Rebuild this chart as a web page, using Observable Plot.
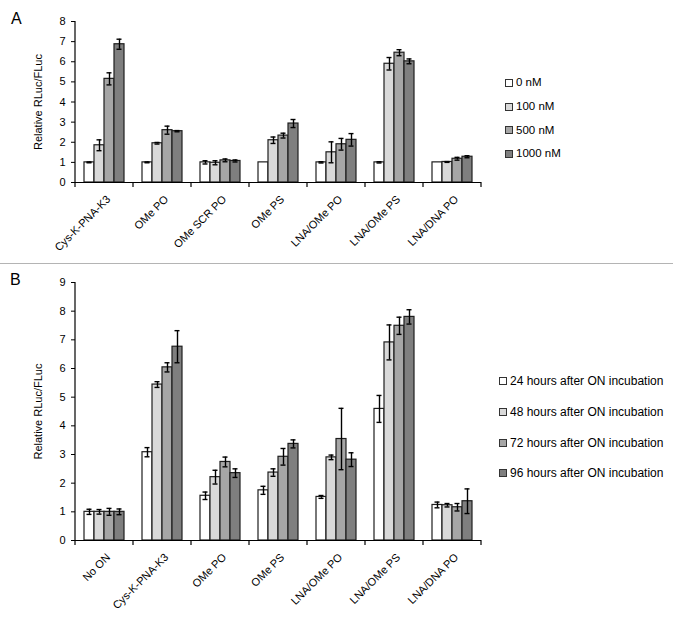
<!DOCTYPE html>
<html>
<head>
<meta charset="utf-8">
<script src="https://cdn.jsdelivr.net/npm/d3@7"></script>
<script src="https://cdn.jsdelivr.net/npm/@observablehq/plot@0.6"></script>
<style>
  html, body { margin: 0; padding: 0; background: #fff; }
  #root { position: relative; width: 673px; height: 621px; overflow: hidden; font-family: "Liberation Sans", Arial, sans-serif; color: #000; }
  #root svg, #root svg text { font-family: "Liberation Sans", Arial, sans-serif !important; }
  .panel { position: absolute; left: 0; }
  .letter { position: absolute; font-size: 16px; line-height: 1; }
  .sep { position: absolute; left: 0; width: 673px; height: 1px; background: #b4b4b4; }
  .legend { position: absolute; }
  .legend .row { position: absolute; left: 0; white-space: nowrap; display: flex; align-items: center; line-height: 1; }
  .legend .sw { width: 6px; height: 6px; border: 1px solid #333; margin-right: 3px; display: inline-block; }
</style>
</head>
<body>
<div id="root"></div>
<script>
// ---------- Data: panel A ----------
const catsA = ["Cys-K-PNA-K3", "OMe PO", "OMe SCR PO", "OMe PS", "LNA/OMe PO", "LNA/OMe PS", "LNA/DNA PO"];
const seriesA = ["0 nM", "100 nM", "500 nM", "1000 nM"];
const valA0 = [1.00, 1.00, 1.00, 1.00, 1.00, 1.00, 1.00];
const valA1 = [1.85, 1.95, 0.98, 2.10, 1.50, 5.90, 1.02];
const valA2 = [5.15, 2.60, 1.10, 2.33, 1.90, 6.45, 1.18];
const valA3 = [6.87, 2.55, 1.07, 2.93, 2.12, 6.02, 1.28];
const errA0 = [0.02, 0.02, 0.08, 0.00, 0.03, 0.03, 0.00];
const errA1 = [0.27, 0.04, 0.10, 0.16, 0.52, 0.31, 0.02];
const errA2 = [0.30, 0.20, 0.07, 0.12, 0.29, 0.15, 0.07];
const errA3 = [0.25, 0.03, 0.05, 0.20, 0.31, 0.12, 0.05];
const yTicksA = [0, 1, 2, 3, 4, 5, 6, 7, 8];

// ---------- Data: panel B ----------
const catsB = ["No ON", "Cys-K-PNA-K3", "OMe PO", "OMe PS", "LNA/OMe PO", "LNA/OMe PS", "LNA/DNA PO"];
const seriesB = ["24 hours after ON incubation", "48 hours after ON incubation", "72 hours after ON incubation", "96 hours after ON incubation"];
const valB0 = [1.00, 3.08, 1.56, 1.75, 1.52, 4.59, 1.24];
const valB1 = [1.00, 5.44, 2.21, 2.37, 2.90, 6.91, 1.23];
const valB2 = [1.00, 6.04, 2.74, 2.92, 3.54, 7.49, 1.16];
const valB3 = [1.00, 6.76, 2.35, 3.37, 2.82, 7.80, 1.37];
const errB0 = [0.09, 0.16, 0.13, 0.14, 0.05, 0.47, 0.10];
const errB1 = [0.08, 0.10, 0.24, 0.13, 0.08, 0.61, 0.06];
const errB2 = [0.12, 0.16, 0.17, 0.29, 1.07, 0.30, 0.13];
const errB3 = [0.10, 0.56, 0.15, 0.14, 0.24, 0.25, 0.43];
const yTicksB = [0, 1, 2, 3, 4, 5, 6, 7, 8, 9];

const fills = ["#ffffff", "#d9d9d9", "#a6a6a6", "#7f7f7f"];
const yLabel = "Relative RLuc/FLuc";
const FONT = "'Liberation Sans', Arial, sans-serif";

function makePanel({cats, series, vals, errs, yTicks, height, marginTop, marginBottom}) {
  const rows = [];
  cats.forEach((c, i) => series.forEach((s, k) => rows.push({cat: c, series: s, value: vals[k][i], err: errs[k][i]})));
  const withErr = rows.filter(d => d.err > 0);
  const ymax = yTicks[yTicks.length - 1];
  const plot = Plot.plot({
    width: 673,
    height,
    marginLeft: 72,
    marginRight: 189,
    marginTop,
    marginBottom,
    style: {fontFamily: FONT, fontSize: "11px", color: "#000", background: "transparent", overflow: "visible"},
    fx: {domain: cats, padding: 0, label: null},
    x: {domain: series, paddingInner: 0, paddingOuter: 0.75, axis: null},
    y: {domain: [0, ymax], label: null},
    color: {domain: series, range: fills},
    marks: [
      Plot.axisY({ticks: yTicks, tickSize: 4, tickPadding: 6, fontSize: 11, label: yLabel, labelAnchor: "center", labelOffset: 41, labelArrow: false}),
      Plot.axisFx({anchor: "bottom", tickSize: 0, tickRotate: -45, tickPadding: 9, dx: 4, dy: 6, fontSize: 11, label: null}),
      Plot.barY(rows, {fx: "cat", x: "series", y: "value", fill: "series", stroke: "#1e1e1e", strokeWidth: 1.2}),
      Plot.ruleX(withErr, {fx: "cat", x: "series", y1: d => d.value - d.err, y2: d => d.value + d.err, stroke: "#000", strokeWidth: 1.4}),
      Plot.tickY(withErr, {fx: "cat", x: "series", y: d => d.value + d.err, stroke: "#000", strokeWidth: 1.4, insetLeft: 2.5, insetRight: 2.5}),
      Plot.tickY(withErr, {fx: "cat", x: "series", y: d => d.value - d.err, stroke: "#000", strokeWidth: 1.4, insetLeft: 2.5, insetRight: 2.5}),
      Plot.ruleY([0], {stroke: "#000", strokeWidth: 1.2})
    ]
  });
  plot.setAttribute("font-family", FONT);
  // category boundary ticks and the y axis line, from the plot's own scales
  const fx = plot.scale("fx"), y = plot.scale("y");
  const bounds = cats.map(c => fx.apply(c));
  bounds.push(bounds[bounds.length - 1] + fx.bandwidth);
  const g = d3.select(plot).append("g").attr("stroke", "#000").attr("stroke-width", 1.2);
  g.selectAll("line.b").data(bounds).join("line")
    .attr("x1", d => d).attr("x2", d => d)
    .attr("y1", y.apply(0)).attr("y2", y.apply(0) + 5);
  g.append("line")
    .attr("x1", bounds[0]).attr("x2", bounds[0])
    .attr("y1", y.apply(0)).attr("y2", y.apply(ymax));
  return plot;
}

const root = document.getElementById("root");

const pA = makePanel({cats: catsA, series: seriesA, vals: [valA0, valA1, valA2, valA3], errs: [errA0, errA1, errA2, errA3], yTicks: yTicksA, height: 263, marginTop: 21, marginBottom: 81});
pA.classList.add("panel"); pA.style.top = "0px";
root.appendChild(pA);

const sep = document.createElement("div"); sep.className = "sep"; sep.style.top = "263px"; root.appendChild(sep);

const pB = makePanel({cats: catsB, series: seriesB, vals: [valB0, valB1, valB2, valB3], errs: [errB0, errB1, errB2, errB3], yTicks: yTicksB, height: 357, marginTop: 18, marginBottom: 81});
pB.classList.add("panel"); pB.style.top = "264px";
root.appendChild(pB);

function letter(t, left, top) {
  const d = document.createElement("div"); d.className = "letter"; d.textContent = t;
  d.style.left = left + "px"; d.style.top = top + "px"; root.appendChild(d);
}
letter("A", 11, 11);
letter("B", 10, 272);

function legend(series, left, top, step, size) {
  const L = document.createElement("div"); L.className = "legend";
  L.style.left = left + "px"; L.style.top = top + "px"; L.style.fontSize = size + "px";
  series.forEach((s, k) => {
    const r = document.createElement("div"); r.className = "row"; r.style.top = (k * step) + "px";
    const sw = document.createElement("span"); sw.className = "sw"; sw.style.background = fills[k];
    const tx = document.createElement("span"); tx.textContent = s;
    r.appendChild(sw); r.appendChild(tx); L.appendChild(r);
  });
  root.appendChild(L);
}
legend(seriesA, 505, 77, 23.8, 11.5);
legend(seriesB, 499, 375, 30.8, 12);
</script>
</body>
</html>
